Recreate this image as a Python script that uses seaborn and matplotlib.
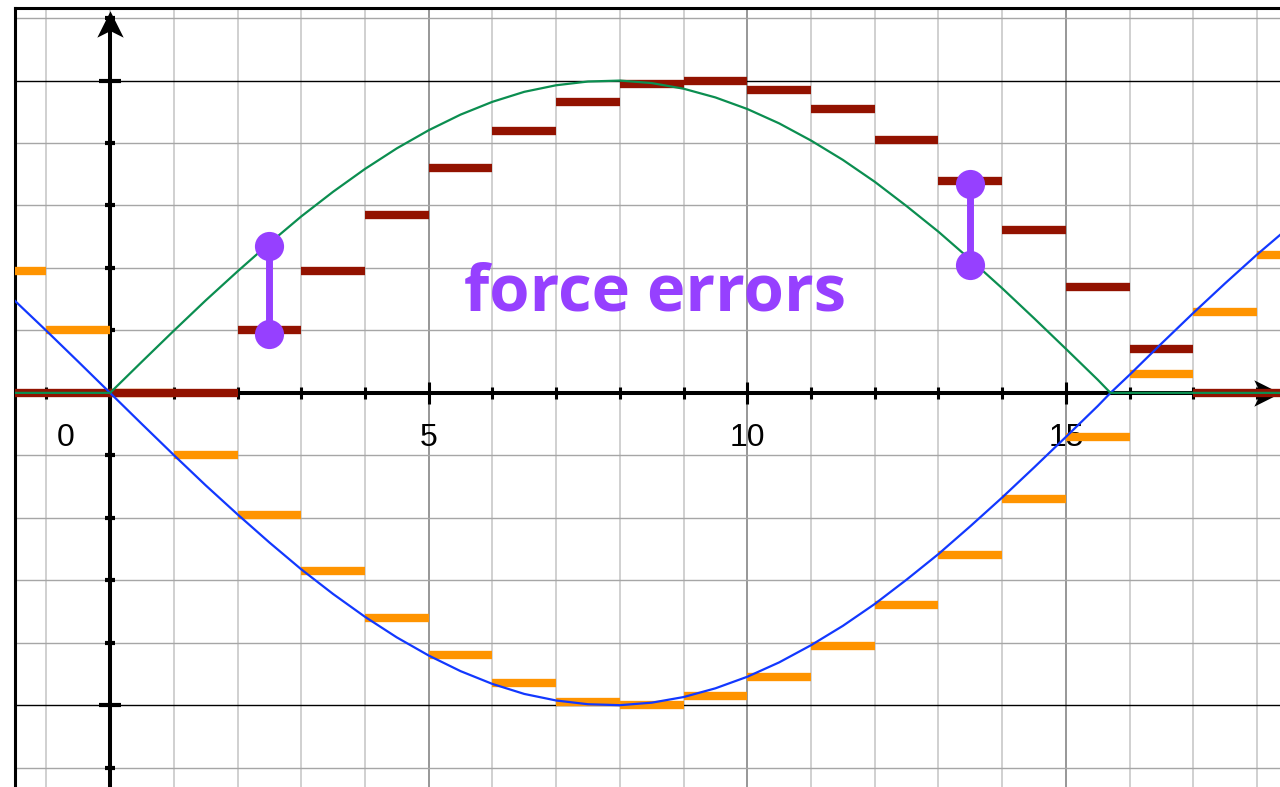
import matplotlib
matplotlib.use('Agg')
import matplotlib.pyplot as plt
from matplotlib.path import Path
import seaborn as sns

# smooth curves (x in grid units, y in units of the peak)
curve_x = [-1.5, -1.0, -0.5, 0.0, 0.5, 1.0, 1.5, 2.0, 2.5, 3.0, 3.5, 4.0, 4.5,
           5.0, 5.5, 6.0, 6.5, 7.0, 7.5, 8.0, 8.5, 9.0, 9.5, 10.0, 10.5, 11.0,
           11.5, 12.0, 12.5, 13.0, 13.5, 14.0, 14.5, 15.0, 15.5, 15.7, 16.0,
           16.5, 17.0, 17.5, 18.0, 18.5]
green_curve = [0.0, 0.0, 0.0, 0.0, 0.100, 0.199, 0.296, 0.389, 0.479, 0.565,
               0.644, 0.717, 0.783, 0.841, 0.891, 0.932, 0.964, 0.985, 0.997,
               1.000, 0.992, 0.974, 0.946, 0.909, 0.863, 0.808, 0.746, 0.676,
               0.598, 0.516, 0.427, 0.335, 0.239, 0.141, 0.042, 0.0, 0.0,
               0.0, 0.0, 0.0, 0.0, 0.0]
blue_curve = [0.296, 0.199, 0.100, 0.000, -0.100, -0.199, -0.296, -0.389,
              -0.479, -0.565, -0.644, -0.717, -0.783, -0.841, -0.891, -0.932,
              -0.964, -0.985, -0.997, -1.000, -0.992, -0.974, -0.946, -0.909,
              -0.863, -0.808, -0.746, -0.676, -0.598, -0.516, -0.427, -0.335,
              -0.239, -0.141, -0.042, 0.000, 0.058, 0.158, 0.256, 0.351,
              0.443, 0.530]

# step segments, each from step_start to step_start + 1
step_start = [-2, -1, 0, 1, 2, 3, 4, 5, 6, 7, 8, 9, 10, 11, 12, 13, 14, 15,
              16, 17, 18]
red_steps = [0, 0, 0, 0, 0.20, 0.39, 0.57, 0.72, 0.84, 0.93, 0.99, 1.00,
             0.97, 0.91, 0.81, 0.68, 0.52, 0.34, 0.14, 0, 0]
orange_steps = [0.39, 0.20, 0, -0.20, -0.39, -0.57, -0.72, -0.84, -0.93,
                -0.99, -1.00, -0.97, -0.91, -0.81, -0.68, -0.52, -0.34,
                -0.14, 0.06, 0.26, 0.44]

# purple error markers
error_x = [2.5, 13.5]
error_low = [0.19, 0.41]
error_high = [0.47, 0.67]

tick_label_x = [-0.7, 5, 10, 15]
tick_labels = ['0', '5', '10', '15']

GREEN = '#0b8e50'
BLUE = '#1238ff'
DARKRED = '#921200'
ORANGE = '#ff9400'
PURPLE = '#9640ff'

sns.set_style('white')
fig = plt.figure(figsize=(12.8, 7.87), dpi=100)
ax = fig.add_axes([14.5 / 1280, 0, 1 - 14.5 / 1280, 1 - 7.5 / 787])
ax.set_xlim(-1.5, 18.36)
ax.set_ylim(-1.262, 1.234)
ax.set_xticks([])
ax.set_yticks([])
for side in ['right', 'bottom']:
    ax.spines[side].set_visible(False)
for side in ['top', 'left']:
    ax.spines[side].set_color('black')
    ax.spines[side].set_linewidth(2.2)

# grid
for gx in range(-1, 19):
    col = '#7a7a7a' if gx % 5 == 0 and gx != 0 else '#c4c4c4'
    ax.axvline(gx, color=col, lw=1.1, zorder=0.5)
for i in range(-6, 7):
    gy = i * 0.2
    col = 'black' if abs(i) == 5 else '#a6a6a6'
    ax.axhline(gy, color=col, lw=1.0, zorder=0.6)

# axes with arrow heads
ax.plot([-1.5, 18.2], [0, 0], color='black', lw=2.9, zorder=2,
        solid_capstyle='butt')
ax.plot([0, 0], [-1.262, 1.19], color='black', lw=2.9, zorder=2,
        solid_capstyle='butt')
up_head = Path([(0, 1), (-1, -1), (0, -0.5), (1, -1), (0, 1)],
               [Path.MOVETO, Path.LINETO, Path.LINETO, Path.LINETO, Path.CLOSEPOLY])
right_head = Path([(1, 0), (-1, 1), (-0.5, 0), (-1, -1), (1, 0)],
                  [Path.MOVETO, Path.LINETO, Path.LINETO, Path.LINETO, Path.CLOSEPOLY])
ax.plot([0], [1.18], marker=up_head, ms=19, color='black', mew=0,
        zorder=2, clip_on=False)
ax.plot([18.16], [0], marker=right_head, ms=19, color='black', mew=0,
        zorder=2, clip_on=False)

# tick marks
x_small = [x for x in range(-1, 19) if x % 5 != 0]
x_big = [5, 10, 15]
ax.plot(x_small, [0] * len(x_small), ls='', marker='|', ms=8.6, mew=2.2,
        color='black', zorder=2)
ax.plot(x_big, [0] * len(x_big), ls='', marker='|', ms=16, mew=2.2,
        color='black', zorder=2)
y_small = [i * 0.2 for i in range(-6, 7) if i != 0 and abs(i) != 5]
y_big = [-1.0, 1.0]
ax.plot([0] * len(y_small), y_small, ls='', marker='_', ms=7.5, mew=3,
        color='black', zorder=2)
ax.plot([0] * len(y_big), y_big, ls='', marker='_', ms=16, mew=3,
        color='black', zorder=2)

for x, lab in zip(tick_label_x, tick_labels):
    ax.text(x, -0.144, lab, ha='center', va='center', fontsize=23,
            family='Liberation Sans', color='black', zorder=2.5)

# steps
step_end = [s + 1 for s in step_start]
ax.hlines(orange_steps, step_start, step_end, color=ORANGE, lw=6, zorder=3)
ax.hlines(red_steps, step_start, step_end, color=DARKRED, lw=6, zorder=3.2)

# curves
sns.lineplot(x=curve_x, y=blue_curve, color=BLUE, lw=1.6, ax=ax, zorder=4)
sns.lineplot(x=curve_x, y=green_curve, color=GREEN, lw=1.6, ax=ax, zorder=4.1)

# error bars
for x, lo, hi in zip(error_x, error_low, error_high):
    ax.plot([x, x], [lo, hi], color=PURPLE, lw=5, marker='o', ms=21,
            mew=0, zorder=6)

ax.text(8.55, 0.264, 'force errors', ha='center', va='baseline',
        fontsize=47, fontweight='bold', family='Open Sans', color=PURPLE,
        zorder=6)

fig.savefig('out.png', dpi=100)
